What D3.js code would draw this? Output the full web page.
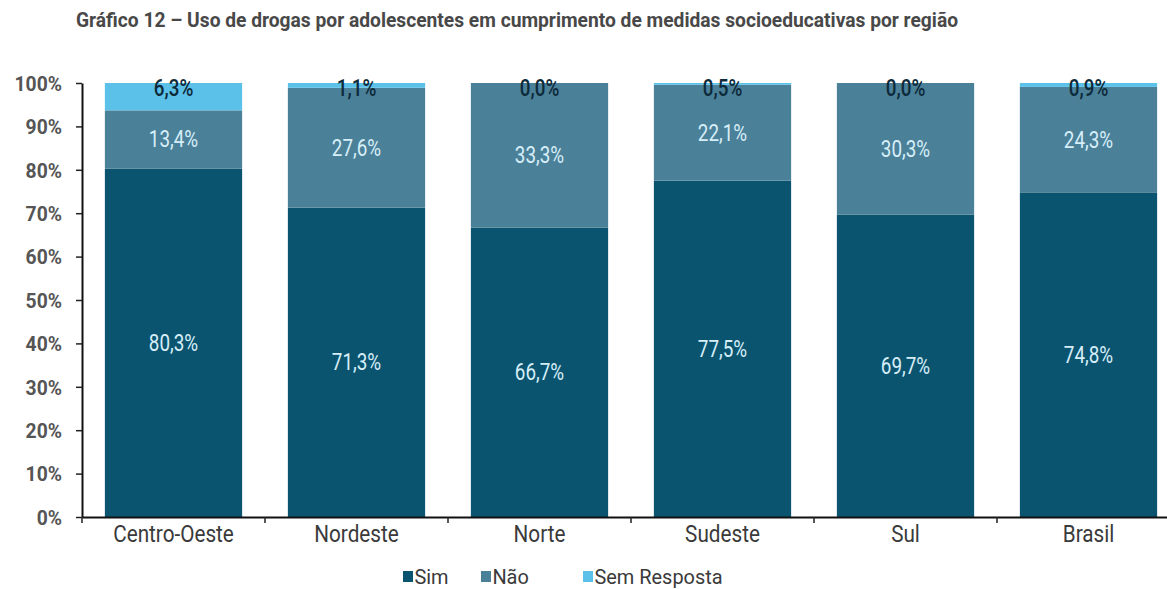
<!DOCTYPE html>
<html>
<head>
<meta charset="utf-8">
<script src="https://cdn.jsdelivr.net/npm/d3@7"></script>
<style>
  html, body { margin: 0; padding: 0; background: #ffffff; }
  svg { display: block; }
  text { font-family: Roboto, "Liberation Sans", sans-serif; }
</style>
</head>
<body>
<svg id="chart" width="1167" height="589"></svg>
<script>
// Regions and answer shares (%)
const regions = ["Centro-Oeste", "Nordeste", "Norte", "Sudeste", "Sul", "Brasil"];
const sim = [80.3, 71.3, 66.7, 77.5, 69.7, 74.8];
const nao = [13.4, 27.6, 33.3, 22.1, 30.3, 24.3];
const semResposta = [6.3, 1.1, 0.0, 0.5, 0.0, 0.9];
const seriesNames = ["Sim", "Não", "Sem Resposta"];
const yTicks = [0, 10, 20, 30, 40, 50, 60, 70, 80, 90, 100];

const colors = ["#0b5470", "#4b8099", "#5cc1e9"];
const labelColors = ["#d6eef8", "#d6eef8", "#0d2a3a"];

const svg = d3.select("#chart");
const fmt = v => v.toFixed(1).replace(".", ",") + "%";

const x = d3.scaleBand().domain(regions).range([82, 1180]).paddingInner(0.25).paddingOuter(0.125);
const y = d3.scaleLinear().domain([0, 100]).range([517, 83]);

// Title (condensed bold)
svg.append("text")
  .attr("x", 76).attr("y", 27)
  .attr("textLength", 882).attr("lengthAdjust", "spacingAndGlyphs")
  .attr("font-size", 21).attr("font-weight", "bold").attr("fill", "#484848")
  .text("Gráfico 12 – Uso de drogas por adolescentes em cumprimento de medidas socioeducativas por região");

// Stack the three series
const rows = regions.map((r, i) => ({ region: r, Sim: sim[i], "Não": nao[i], "Sem Resposta": semResposta[i] }));
const stacked = d3.stack().keys(seriesNames)(rows);

const layers = svg.append("g").selectAll("g").data(stacked).join("g")
  .attr("fill", (d, i) => colors[i]);

layers.selectAll("rect").data(d => d).join("rect")
  .attr("x", d => x(d.data.region))
  .attr("width", x.bandwidth())
  .attr("y", d => y(Math.min(100, d[1])))
  .attr("height", d => Math.max(0, y(d[0]) - y(Math.min(100, d[1]))));

// Value labels: Sim and Não centred in their segment, Sem Resposta at the top of the bar
stacked.forEach((layer, si) => {
  svg.append("g").selectAll("text").data(layer).join("text")
    .attr("transform", d => {
      const cx = x(d.data.region) + x.bandwidth() / 2;
      const cy = si < 2 ? y((d[0] + d[1]) / 2) : y(100) + 5;
      return `translate(${cx},${cy}) scale(0.82,1)`;
    })
    .attr("dy", "0.35em")
    .attr("text-anchor", "middle")
    .attr("font-size", 23)
    .attr("fill", labelColors[si])
    .attr("font-weight", si === 2 ? 500 : "normal")
    .text(d => fmt(d.data[seriesNames[si]]));
});

// Y axis
const yAxis = svg.append("g").attr("transform", "translate(82,0)")
  .call(d3.axisLeft(y).tickValues(yTicks).tickFormat(d => d + "%").tickSize(6).tickSizeOuter(0));
yAxis.select(".domain").attr("stroke", "#111").attr("stroke-width", 2);
yAxis.selectAll(".tick line").attr("stroke", "#222").attr("stroke-width", 1.5);
yAxis.selectAll(".tick text")
  .attr("x", 0).attr("dy", "0.35em")
  .attr("transform", "translate(-20,0) scale(0.92,1)")
  .attr("font-size", 21).attr("font-weight", "bold").attr("fill", "#555555")
  .attr("font-family", "'Liberation Sans', Arial, sans-serif");

// X axis
const xAxis = svg.append("g").attr("transform", "translate(0,517)")
  .call(d3.axisBottom(x).tickSize(0).tickSizeOuter(0));
xAxis.select(".domain").attr("stroke", "#111").attr("stroke-width", 2);
xAxis.selectAll(".tick text").attr("dy", "0").attr("y", 0)
  .attr("transform", "translate(0,25) scale(0.9,1)")
  .attr("font-size", 23).attr("fill", "#3a3a3a");
// Tick marks between the categories
const boundaries = regions.slice(1).map(r => x(r) - x.step() * x.paddingInner() / 2);
boundaries.unshift(82);
svg.append("g").selectAll("line").data(boundaries).join("line")
  .attr("x1", d => d).attr("x2", d => d)
  .attr("y1", 517).attr("y2", 523)
  .attr("stroke", "#222").attr("stroke-width", 1.5);

// Legend
const legendX = [403, 481, 583];
const legend = svg.append("g").selectAll("g").data(seriesNames).join("g")
  .attr("transform", (d, i) => `translate(${legendX[i]},577)`);
legend.append("rect").attr("x", 0).attr("y", -6).attr("width", 10).attr("height", 11)
  .attr("fill", (d, i) => colors[i]);
legend.append("text").attr("x", 12).attr("y", 0).attr("dy", "0.35em")
  .attr("transform", "scale(0.95,1)")
  .attr("font-size", 21).attr("fill", "#3a3a3a").text(d => d);
</script>
</body>
</html>
